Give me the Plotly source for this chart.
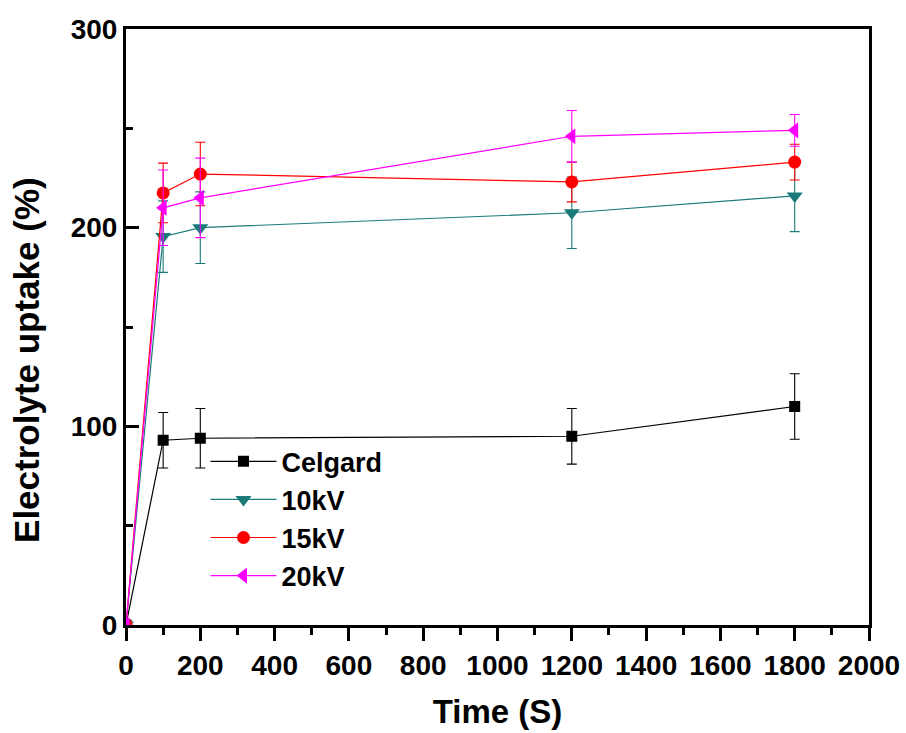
import plotly.graph_objects as go

# Soaking time (s)
time_s = [0, 100, 200, 1200, 1800]

# Electrolyte uptake (%) and standard deviations for each separator
celgard = [0, 93, 94, 95, 110]
celgard_err = [0, 14, 15, 14, 16.5]

kv10 = [0, 195.5, 200, 207.5, 216]
kv10_err = [0, 18, 18, 18, 18]

kv15 = [0, 217.5, 227, 223, 233]
kv15_err = [0, 15, 16, 10, 9]

kv20 = [0, 210, 215, 246, 249]
kv20_err = [0, 19, 20, 13, 8]

series = [
    ("Celgard", celgard, celgard_err, "#000000", "square", 11),
    ("10kV", kv10, kv10_err, "#1b7b7b", "triangle-down", 14),
    ("15kV", kv15, kv15_err, "#ff0000", "circle", 13),
    ("20kV", kv20, kv20_err, "#ff00ff", "triangle-left", 14),
]

FONT = "Arial, Liberation Sans, sans-serif"

fig = go.Figure()
for name, vals, errs, color, symbol, size in series:
    fig.add_trace(go.Scatter(
        x=time_s, y=vals, name=name, mode="lines+markers",
        line=dict(color=color, width=1.2),
        marker=dict(symbol=symbol, size=size, color=color),
        error_y=dict(type="data", array=errs, visible=True,
                     color=color, thickness=1.1, width=5),
    ))

fig.update_layout(
    width=906, height=733,
    margin=dict(l=126, r=37, t=29, b=108, autoexpand=False),
    paper_bgcolor="white", plot_bgcolor="white",
    font=dict(family=FONT, color="black"),
    showlegend=True,
    legend=dict(
        x=0.107, y=0.315, xanchor="left", yanchor="top",
        bgcolor="rgba(0,0,0,0)", borderwidth=0,
        font=dict(family=FONT, size=27, color="black", weight="bold"),
        itemwidth=66, tracegroupgap=0,
    ),
)

fig.update_xaxes(
    range=[0, 2000], tickvals=list(range(0, 2001, 200)),
    ticks="outside", ticklen=13, tickwidth=3, tickcolor="black",
    minor=dict(dtick=100, tick0=0, ticks="outside", ticklen=7,
               tickwidth=3, tickcolor="black"),
    showline=True, linewidth=3, linecolor="black", mirror=True,
    showgrid=False, zeroline=False, automargin=False,
    tickfont=dict(family=FONT, size=28, color="black", weight="bold"),
    title=dict(text="Time (S)", standoff=21,
               font=dict(family=FONT, size=33, color="black", weight="bold")),
)

fig.update_yaxes(
    range=[0, 300], tickvals=[0, 100, 200, 300],
    ticks="inside", ticklen=13, tickwidth=3, tickcolor="black",
    minor=dict(dtick=50, tick0=0, ticks="inside", ticklen=7,
               tickwidth=3, tickcolor="black"),
    showline=True, linewidth=3, linecolor="black", mirror=True,
    showgrid=False, zeroline=False, automargin=False,
    tickfont=dict(family=FONT, size=28, color="black", weight="bold"),
)

# Y-axis title placed as a rotated annotation, set slightly below the axis centre
fig.add_annotation(
    text="Electrolyte uptake (%)", textangle=-90,
    xref="paper", yref="paper", x=-0.133, y=0.445,
    xanchor="center", yanchor="middle", showarrow=False,
    font=dict(family=FONT, size=35, color="black", weight="bold"),
)

fig.write_html("out.html")
